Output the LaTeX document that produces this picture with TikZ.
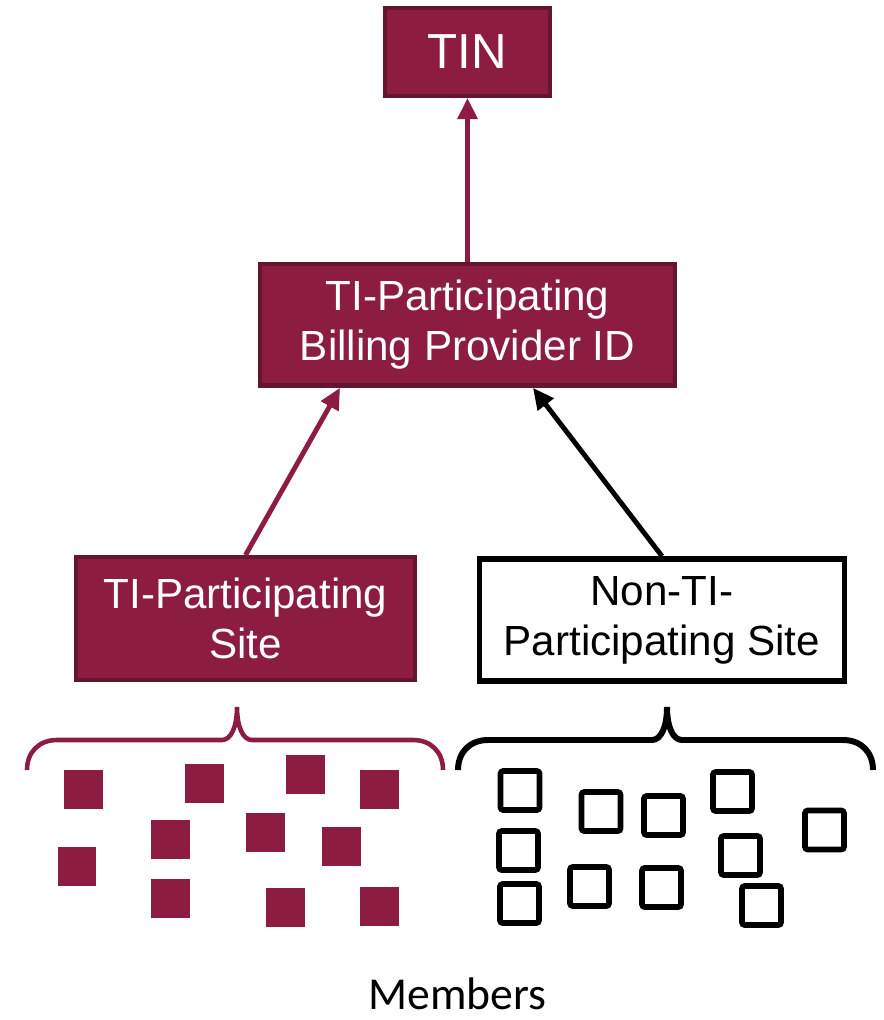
\documentclass[tikz,border=0pt]{standalone}
\usepackage{fontspec}
\setmainfont{Liberation Sans}
\newfontfamily\memberfont{Carlito}
\usetikzlibrary{positioning, arrows.meta}
\definecolor{maroon}{HTML}{8C1D40}
\definecolor{darkmaroon}{RGB}{102,21,46}
\tikzset{
  >={Triangle[length=12pt,width=11pt]},
  node distance=5.46cm,
  box/.style={draw=darkmaroon, fill=maroon, line width=2.5pt, text=white,
    align=center, inner sep=0pt, font=\fontsize{24}{28.5}\selectfont},
  openbox/.style={box, draw=black, fill=white, text=black, line width=3.2pt},
  link/.style={->, line width=2.8pt, draw=maroon},
  member/.style={fill=maroon, minimum size=0.78cm, inner sep=0pt},
  openmember/.style={draw=black, line width=3.2pt, rounded corners=1.5pt,
    minimum size=0.78cm, inner sep=0pt},
}

\begin{document}
\begin{tikzpicture}[x=0.02cm, y=-0.02cm]
        \useasboundingbox (0,0) rectangle (884,1020);

        % boxes
        \node[box, minimum width=3.29cm, minimum height=1.75cm,
              font=\fontsize{28}{32}\selectfont] (tin) at (467.5,52) {TIN};
        \node[box, below of=tin, minimum width=8.29cm, minimum height=2.43cm] (billing)
              {TI-Participating\\Billing Provider ID};
        \node[box, minimum width=6.77cm, minimum height=2.45cm] (tisite) at (245.5,618.5)
              {TI-Participating\\Site};
        \node[openbox, minimum width=7.3cm, minimum height=2.44cm] (nontisite) at (662,620)
              {Non-TI-\\Participating Site};

        % arrows
        \draw[link] (billing) -- (tin);
        \draw[link] (tisite.north) -- ([xshift=-2.55cm]billing.south);
        \draw[link, draw=black] (nontisite.north) -- ([xshift=1.31cm]billing.south);

        % braces
        \draw[maroon, line width=2.6pt]
              (27,770) .. controls (27,752) and (39,740) .. (57,740) -- (222,740)
              .. controls (231,740) and (237,727) .. (237,707)
              .. controls (237,727) and (243,740) .. (252,740) -- (413,740)
              .. controls (431,740) and (443,752) .. (443,770);
        \draw[black, line width=3.4pt]
              (458,770) .. controls (458,752) and (470,740) .. (488,740) -- (652,740)
              .. controls (661,740) and (667,727) .. (667,707)
              .. controls (667,727) and (673,740) .. (682,740) -- (843,740)
              .. controls (861,740) and (873,752) .. (873,770);

        % members
        \foreach \x/\y [count=\i] in {83.5/789, 204.5/783.5, 305.5/774.5, 379.5/789,
              170.5/839.5, 265.5/832, 341.5/846.5, 77/866, 170.5/898.5, 285/907, 379.5/906}
            \node[member] (m\i) at (\x,\y) {};
        \foreach \x/\y [count=\i] in {520/790.5, 601/811.5, 663.5/815.5, 732.5/791.5,
              824.5/830, 518.5/850.5, 740.5/855.5, 589.5/886.5, 661.5/887.5, 519.5/903.5,
              761.5/905.5}
            \node[openmember] (n\i) at (\x,\y) {};

        \node[anchor=base, inner sep=0pt, font=\memberfont\fontsize{26}{30}\selectfont]
              (members) at (457.5,1009) {Members};
\end{tikzpicture}
\end{document}
